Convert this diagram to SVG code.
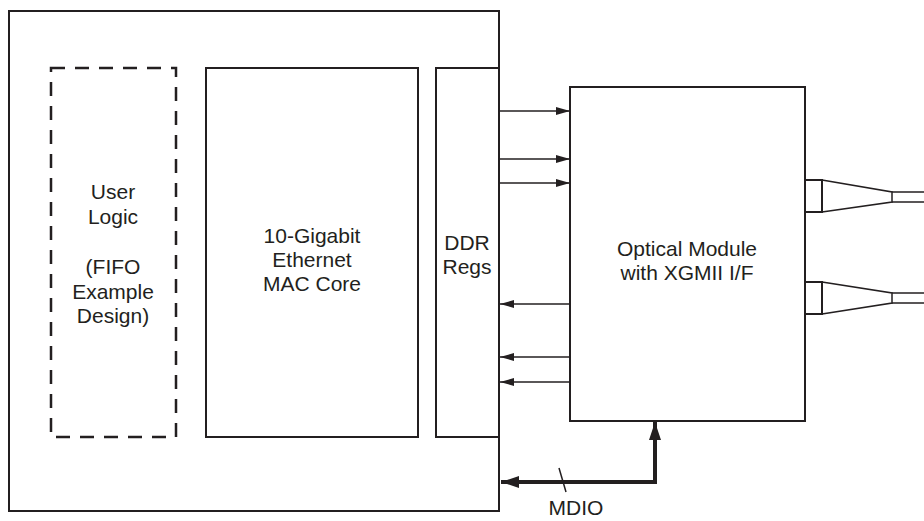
<svg xmlns="http://www.w3.org/2000/svg" width="924" height="521" viewBox="0 0 924 521">
<defs>
<marker id="ah" markerWidth="14" markerHeight="8" refX="14" refY="4" orient="auto" markerUnits="userSpaceOnUse"><path d="M0,0 L14,4 L0,8 Z" fill="#231f20"/></marker>
<marker id="ahb" markerWidth="18" markerHeight="12" refX="18" refY="6" orient="auto" markerUnits="userSpaceOnUse"><path d="M0,0 L18,6 L0,12 Z" fill="#231f20"/></marker>
</defs>
<style>
.box{fill:#fff;stroke:#231f20;stroke-width:2}
.dash{fill:none;stroke:#231f20;stroke-width:2.5;stroke-dasharray:14,10}
.t{font-family:"Liberation Sans",Arial,sans-serif;font-size:21px;fill:#231f20;text-anchor:middle}
.ln{stroke:#231f20;stroke-width:1.5;fill:none}
.thick{stroke:#231f20;stroke-width:4;fill:none}
</style>
<rect width="924" height="521" fill="#fff"/>
<g id="fpga"><rect class="box" x="9" y="11" width="490" height="500"/></g>
<g id="user-logic">
<rect class="dash" x="51" y="68" width="125" height="369"/>
<text class="t" x="113" y="199">User</text>
<text class="t" x="113" y="224">Logic</text>
<text class="t" x="113" y="274">(FIFO</text>
<text class="t" x="113" y="299">Example</text>
<text class="t" x="113" y="323">Design)</text>
</g>
<g id="mac-core">
<rect class="box" x="206" y="68" width="212" height="369"/>
<text class="t" x="312" y="243">10-Gigabit</text>
<text class="t" x="312" y="267">Ethernet</text>
<text class="t" x="312" y="291">MAC Core</text>
</g>
<g id="ddr-regs">
<rect class="box" x="436" y="68" width="63" height="369"/>
<text class="t" x="467" y="250">DDR</text>
<text class="t" x="467" y="274">Regs</text>
</g>
<g id="optical-module">
<rect class="box" x="570" y="87" width="235" height="334"/>
<text class="t" x="687" y="256">Optical Module</text>
<text class="t" x="687" y="280">with XGMII I/F</text>
</g>
<g id="connector1">
<rect class="box" x="805" y="180" width="17" height="32"/>
<path class="ln" d="M822,180 L892,192 L892,202 L822,212" stroke-width="2"/>
<path class="ln" d="M892,192 H924 M892,202 H924" stroke-width="2"/>
</g>
<g id="connector2">
<rect class="box" x="805" y="282" width="17" height="32"/>
<path class="ln" d="M822,282 L892,293 L892,303 L822,314" stroke-width="2"/>
<path class="ln" d="M892,293 H924 M892,303 H924" stroke-width="2"/>
</g>
<g id="connectors">
<line class="ln" x1="499" y1="111" x2="570" y2="111" marker-end="url(#ah)"/>
<line class="ln" x1="499" y1="159" x2="570" y2="159" marker-end="url(#ah)"/>
<line class="ln" x1="499" y1="183" x2="570" y2="183" marker-end="url(#ah)"/>
<line class="ln" x1="570" y1="304" x2="500" y2="304" marker-end="url(#ah)"/>
<line class="ln" x1="570" y1="357" x2="500" y2="357" marker-end="url(#ah)"/>
<line class="ln" x1="570" y1="382" x2="500" y2="382" marker-end="url(#ah)"/>
<path class="thick" d="M655,482 V422" marker-end="url(#ahb)"/>
<path class="thick" d="M657,482 H501" marker-end="url(#ahb)"/>
<line class="ln" x1="559" y1="468" x2="566" y2="492"/>
<text class="t" x="576" y="515">MDIO</text>
</g>
</svg>
